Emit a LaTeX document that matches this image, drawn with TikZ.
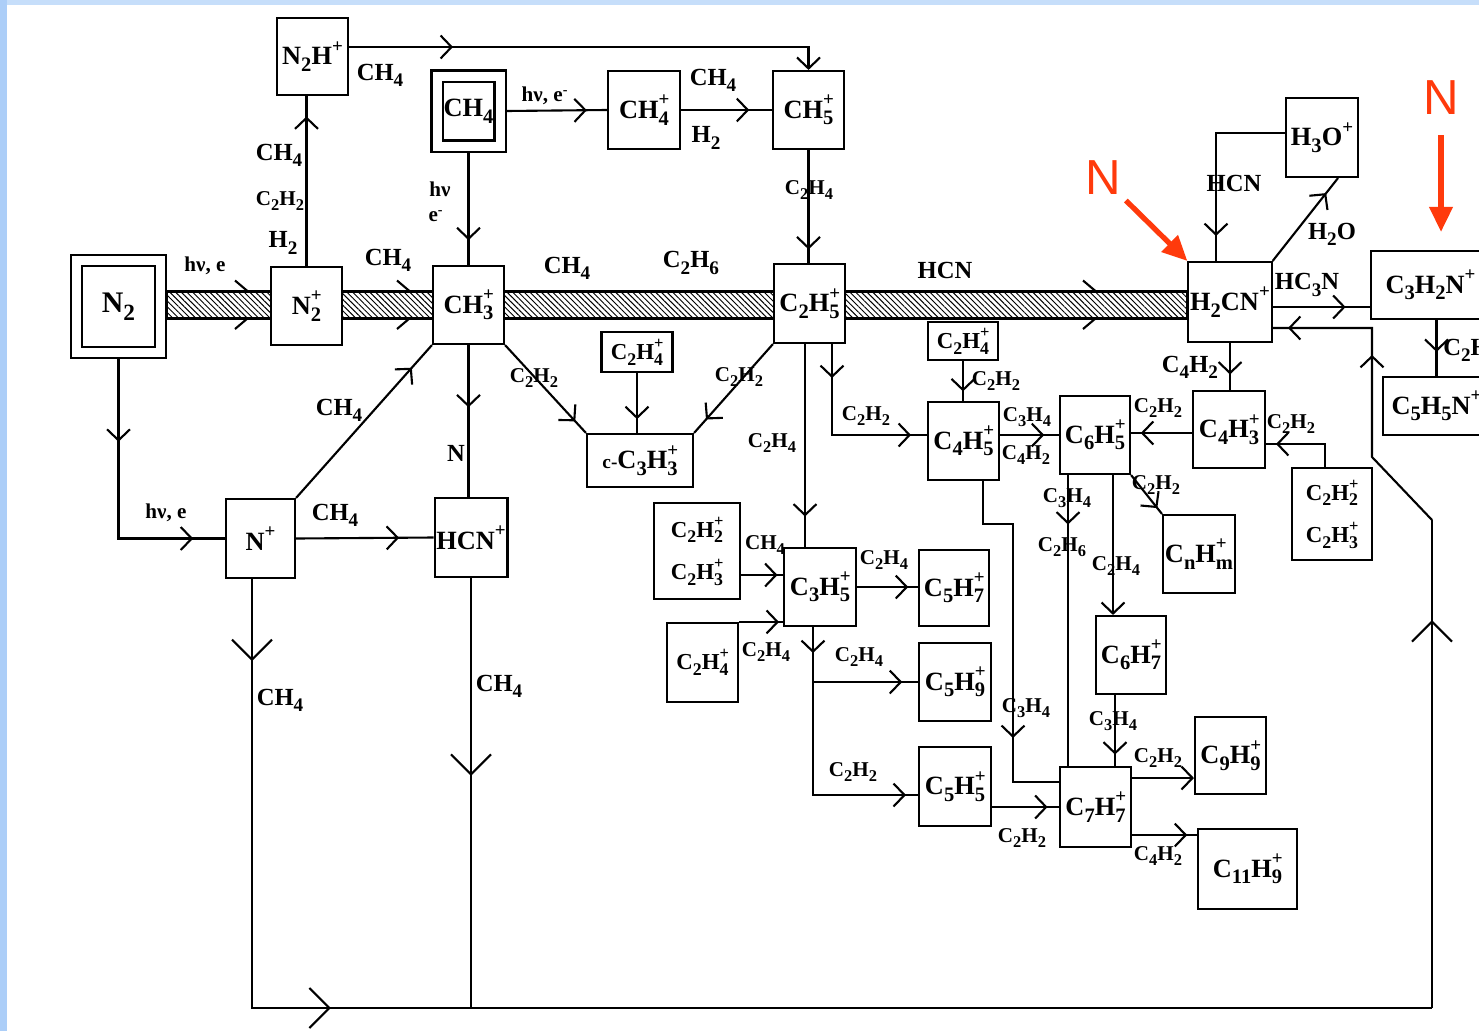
\documentclass[tikz,border=0pt]{standalone}
\usepackage{fontspec}
\setmainfont{Liberation Serif}
\setsansfont{Liberation Sans}
\usetikzlibrary{arrows.meta, positioning, calc, decorations.markings, patterns.meta, backgrounds}
\definecolor{frameblue}{RGB}{198,222,250}
\definecolor{frameleft}{RGB}{172,206,248}
\definecolor{marker}{RGB}{255,58,12}
\newcommand{\fsub}[1]{\raisebox{-0.55ex}{\scalebox{0.78}{#1}}}
\newcommand{\fsup}{\raisebox{1.05ex}{\scalebox{0.72}{+}}}
\newcommand{\fion}[1]{\makebox[0pt][l]{\fsup}\fsub{#1}}

\begin{document}
\begin{tikzpicture}[x=0.02cm, y=-0.02cm]
	\tikzstyle{box} = [draw, fill=white, line width=1.2pt, inner sep=1pt, align=center, font=\bfseries\fontsize{15}{17}\selectfont]
	\tikzstyle{dbox} = [box, double, double distance=0.18cm, outer sep=0.13cm]
	\tikzstyle{smallbox} = [box, font=\bfseries\fontsize{13}{15}\selectfont]
	\tikzstyle{pairbox} = [box, font=\bfseries\fontsize{13}{24}\selectfont]
	\tikzstyle{lab} = [inner sep=0pt, font=\bfseries\fontsize{14}{16}\selectfont]
	\tikzstyle{slab} = [inner sep=0pt, font=\bfseries\fontsize{12}{14}\selectfont]
	\tikzstyle{wire} = [line width=1.2pt]
	\tikzstyle{redarrow} = [line width=3pt, marker, -{Triangle[length=0.5cm, width=0.45cm]}]
	\tikzstyle{rlab} = [inner sep=0pt, marker, font=\sffamily\fontsize{28}{30}\selectfont]
	\tikzset{
		sz/.style 2 args={minimum width=#1*0.02cm, minimum height=#2*0.02cm},
		vtip/.tip={Straight Barb[length=0.22cm, width=0.46cm]},
		Vtip/.tip={Straight Barb[length=0.4cm, width=0.8cm]},
		arr/.style={postaction={decorate, decoration={markings, mark=at position #1 with {\arrow{vtip}}}}},
		barr/.style={postaction={decorate, decoration={markings, mark=at position #1 with {\arrow{Vtip}}}}},
		pics/bandtip/.style={code={\draw[wire] (-13,-11) -- (0,0) (-13,37.5) -- (0,26.5);}}
	}

	\useasboundingbox (0,0) rectangle (1479,1031);

	% boxes
	\node[dbox, sz={83.5}{91.5}, font=\bfseries\fontsize{17}{19}\selectfont] (n2) at (118.5,306.5) {N\fsub{2}};
	\node[dbox, sz={63}{70}] (ch4) at (468.5,111) {CH\fsub{4}};
	\node[box, sz={71}{77}] (n2h) at (312.5,56.5) {N\fsub{2}H\fsup};
	\node[box, sz={72}{78}] (ch4p) at (644,110) {CH\fion{4}};
	\node[box, sz={71}{78}] (ch5p) at (808.5,110) {CH\fion{5}};
	\node[box, sz={71}{78}] (n2p) at (306.5,306) {N\fion{2}};
	\node[box, sz={71}{78}] (ch3p) at (468.5,305) {CH\fion{3}};
	\node[box, sz={71}{79}] (c2h5p) at (809.5,303.5) {C\fsub{2}H\fion{5}};
	\node[box, sz={70}{80}] (h2cnp) at (1230,302) {H\fsub{2}CN\fsup};
	\node[box, sz={72}{79}] (h3op) at (1322,137.5) {H\fsub{3}O\fsup};
	\node[box, sz={119}{68}] (c3h2np) at (1430.5,285) {C\fsub{3}H\fsub{2}N\fsup};
	\node[box, sz={107}{58}] (c5h5np) at (1436.5,406) {C\fsub{5}H\fsub{5}N\fsup};
	\node[smallbox, sz={71}{40}] (c2h4a) at (637,352) {C\fsub{2}H\fion{4}};
	\node[box, sz={106}{53}] (cc3h3p) at (640,460.5) {{\fontsize{11}{13}\selectfont c-}C\fsub{3}H\fion{3}};
	\node[box, sz={69}{79}] (np) at (260.5,538.5) {N\fsup};
	\node[box, sz={72}{79}] (hcnp) at (471,537.5) {HCN\fsup};
	\node[smallbox, sz={70}{38}] (c2h4b) at (963,341) {C\fsub{2}H\fion{4}};
	\node[box, sz={71}{78}] (c4h5p) at (963.5,441) {C\fsub{4}H\fion{5}};
	\node[box, sz={70}{78}] (c6h5p) at (1095,435) {C\fsub{6}H\fion{5}};
	\node[box, sz={72}{77}] (c4h3p) at (1229,429.5) {C\fsub{4}H\fion{3}};
	\node[pairbox, sz={80}{92}] (c2h2c) at (1332,514) {C\fsub{2}H\fion{2}\\C\fsub{2}H\fion{3}};
	\node[box, sz={72}{78}] (cnhmp) at (1199,554) {C\fsub{n}H\fion{m}};
	\node[pairbox, sz={86}{96}] (c2h2d) at (697,551) {C\fsub{2}H\fion{2}\\C\fsub{2}H\fion{3}};
	\node[box, sz={72}{78}] (c3h5p) at (820,587) {C\fsub{3}H\fion{5}};
	\node[box, sz={70}{76}] (c5h7p) at (954,588) {C\fsub{5}H\fion{7}};
	\node[smallbox, sz={71}{79}] (c2h4c) at (702.5,662.5) {C\fsub{2}H\fion{4}};
	\node[box, sz={72}{78}] (c5h9p) at (955,682) {C\fsub{5}H\fion{9}};
	\node[box, sz={72}{79}] (c5h5p) at (955,786.5) {C\fsub{5}H\fion{5}};
	\node[box, sz={70}{78}] (c6h7p) at (1131,655) {C\fsub{6}H\fion{7}};
	\node[box, sz={71}{80}] (c7h7p) at (1095.5,807) {C\fsub{7}H\fion{7}};
	\node[box, sz={71}{77}] (c9h9p) at (1230.5,755.5) {C\fsub{9}H\fion{9}};
	\node[box, sz={99}{80}] (c11h9p) at (1247.5,869) {C\fsub{11}H\fion{9}};

	% frame and hatched main channel
	\begin{pgfonlayer}{background}
		\fill[frameblue] (0,0) rectangle (1479,1031);
		\fill[frameleft] (0,0) rectangle (7,1031);
		\fill[white] (7,5) rectangle (1479,1031);
		\draw[wire, pattern={Lines[angle=-45, distance=2.3pt, line width=0.55pt]}] ($(n2.east)+(0,-15)$) rectangle ($(h2cnp.west)+(0,16.5)$);
	\end{pgfonlayer}
	\pic at (248,291.5) {bandtip};
	\pic at (410,291.5) {bandtip};
	\pic at (1096,291.5) {bandtip};

	% upper part
	\draw[wire, arr=0.8] (ch4.east) -- (ch4p.west);
	\draw[wire, arr=0.75] (ch4p.east) -- (ch5p.west);
	\draw[wire, -{vtip}, arr=2.08cm] ($(n2h.east)+(0,-9.5)$) -| (ch5p.north);
	\draw[wire, arr=0.88] (ch5p.south) -- (ch5p.south |- c2h5p.north);
	\draw[wire, arr=0.78] (ch4.south) -- (ch4.south |- ch3p.north);
	\draw[wire, arr=0.88] (n2p.north) -- (n2p.north |- n2h.south);

	% N+ branch
	\draw[wire, arr=1.66cm, arr=5.09cm] (n2.south) |- (np.west);
	\draw[wire, arr=0.855] (np.north east) -- (ch3p.south west);
	\draw[wire, arr=0.75] (np.east) -- (hcnp.west);
	\draw[wire, arr=0.41] (ch3p.south) -- (ch3p.south |- hcnp.north);

	% return loop
	\coordinate (lp0) at (1432,1008);
	\coordinate (lp1) at (1432,520);
	\coordinate (lp2) at (1372,457);
	\draw[wire, barr=1.64cm, barr=10.16cm] ($(np.south)+(-8.5,0)$) |- (lp0);
	\draw[wire, barr=0.46] (hcnp.south) -- (hcnp.south |- lp0);
	\draw[wire, barr=0.795] (lp0) -- (lp1);
	\draw[wire, arr=3.78cm, arr=6cm] (lp1) -- (lp2) |- ($(h2cnp.east)+(0,26)$);

	% c-C3H3+
	\draw[wire, arr=0.87] (ch3p.south east) -- (cc3h3p.north west);
	\draw[wire, arr=0.85] (c2h5p.south west) -- (cc3h3p.north east);
	\draw[wire, arr=0.77] (c2h4a.south) -- (c2h4a.south |- cc3h3p.north);

	% from C2H5+
	\coordinate (c25a) at ($(c2h5p.south)+(-4.5,0)$);
	\draw[wire, arr=0.85] (c25a) -- (c25a |- c3h5p.north);
	\coordinate (c25b) at ($(c2h5p.south)+(22.5,0)$);
	\draw[wire, arr=0.68cm, arr=3.4cm] (c25b) |- ($(c4h5p.west)+(0,-6)$);
	\draw[wire, arr=0.76] (c2h4b.south) -- (c2h4b.south |- c4h5p.north);

	% C6H5+ and C4H3+
	\draw[wire, arr=0.75] (c6h5p.west -| c4h5p.east) -- (c6h5p.west);
	\coordinate (c43w) at ($(c4h3p.west)+(0,3.5)$);
	\draw[wire, arr=0.84] (c43w) -- (c43w -| c6h5p.east);
	\draw[wire, arr=0.67] (h2cnp.south) -- (h2cnp.south |- c4h3p.north);
	\draw[wire, arr=1.44cm] ($(c2h2c.north)+(-7,0)$) |- ($(c4h3p.east)+(0,14.5)$);
	\draw[wire, arr=0.85] (c6h5p.south east) -- (cnhmp.north west);
	\coordinate (c65a) at ($(c6h5p.south)+(-27,0)$);
	\draw[wire, arr=0.17] (c65a) -- (c65a |- c7h7p.north);
	\coordinate (c65b) at ($(c6h5p.south)+(18,0)$);
	\draw[wire, -{vtip}] (c65b) -- (c65b |- c6h7p.north);
	\coordinate (c45a) at ($(c4h5p.south)+(19.5,0)$);
	\draw[wire, arr=5.74cm] (c45a) -- ++(0,43) -- ++(30,0) |- ($(c7h7p.west)+(0,-25)$);
	\coordinate (c67a) at ($(c6h7p.south)+(-16,0)$);
	\draw[wire, arr=0.84] (c67a) -- (c67a |- c7h7p.north);

	% C7H7+
	\coordinate (c99w) at ($(c9h9p.west)+(0,22.5)$);
	\draw[wire, -{vtip}] (c99w -| c7h7p.east) -- (c99w);
	\coordinate (c119w) at ($(c11h9p.west)+(0,-34)$);
	\draw[wire, arr=0.85] (c119w -| c7h7p.east) -- (c119w);
	\draw[wire, arr=0.83] (c7h7p.west -| c5h5p.east) -- (c7h7p.west);

	% C3H5+
	\coordinate (c22e) at ($(c2h2d.east)+(0,24)$);
	\draw[wire, arr=0.87] (c22e) -- (c22e -| c3h5p.west);
	\draw[wire, arr=0.91] (c2h4c.north east) -- (c2h4c.north east -| c3h5p.west);
	\draw[wire, arr=0.84] (c3h5p.east) -- (c3h5p.east -| c5h7p.west);
	\coordinate (c35s) at ($(c3h5p.south)+(-7,0)$);
	\draw[wire, arr=0.52cm, arr=-0.24cm] (c35s) |- ($(c5h5p.west)+(0,8.5)$);
	\draw[wire, arr=0.85] (c35s |- c5h9p.west) -- (c5h9p.west);

	% H2CN+
	\draw[wire, arr=3.44cm] ($(h3op.west)+(0,-4.5)$) -| ($(h2cnp.north)+(-14,0)$);
	\draw[wire, arr=0.82] (h2cnp.north east) -- ($(h3op.south)+(16,0)$);
	\coordinate (h2e) at ($(h2cnp.east)+(0,5)$);
	\draw[wire, arr=0.75] (h2e) -- (h2e -| c3h2np.west);
	\draw[wire, arr=0.57] (c5h5np.north |- c3h2np.south) -- (c5h5np.north);

	% labels
	\node[lab] (t1) at (380,75) {CH\fsub{4}};
	\node[lab] (t2) at (279,155) {CH\fsub{4}};
	\node[slab] (t3) at (280,201) {C\fsub{2}H\fsub{2}};
	\node[lab] (t4) at (283,243) {H\fsub{2}};
	\node[slab] (t5) at (205,266) {hν, e};
	\node[lab] (t6) at (388,260) {CH\fsub{4}};
	\node[slab] (t7) at (440,189) {hν};
	\node[slab] (t8) at (436,216) {e\textsuperscript{-}};
	\node[slab] (t9) at (545,96) {hν, e\textsuperscript{-}};
	\node[lab] (t10) at (713,80) {CH\fsub{4}};
	\node[lab] (t11) at (706,138) {H\fsub{2}};
	\node[slab] (t12) at (809,190) {C\fsub{2}H\fsub{4}};
	\node[lab] (t13) at (567,268) {CH\fsub{4}};
	\node[lab] (t14) at (691,263) {C\fsub{2}H\fsub{6}};
	\node[lab] (t15) at (945,270) {HCN};
	\node[lab] (t16) at (1234,183) {HCN};
	\node[lab] (t17) at (1332,234) {H\fsub{2}O};
	\node[lab] (t18) at (1307,285) {HC\fsub{3}N};
	\node[lab, anchor=west] (t19) at (1443,350) {C\fsub{2}H\fsub{2}};
	\node[lab] (t20) at (1190,367) {C\fsub{4}H\fsub{2}};
	\node[slab] (t21) at (996,381) {C\fsub{2}H\fsub{2}};
	\node[slab] (t22) at (866,416) {C\fsub{2}H\fsub{2}};
	\node[slab] (t23) at (534,378) {C\fsub{2}H\fsub{2}};
	\node[slab] (t24) at (739,377) {C\fsub{2}H\fsub{2}};
	\node[slab] (t25) at (772,443) {C\fsub{2}H\fsub{4}};
	\node[slab] (t26) at (765,545) {CH\fsub{4}};
	\node[slab] (t27) at (884,560) {C\fsub{2}H\fsub{4}};
	\node[slab] (t28) at (1027,417) {C\fsub{3}H\fsub{4}};
	\node[slab] (t29) at (1026,455) {C\fsub{4}H\fsub{2}};
	\node[slab] (t30) at (1158,408) {C\fsub{2}H\fsub{2}};
	\node[slab] (t31) at (1291,424) {C\fsub{2}H\fsub{2}};
	\node[slab] (t32) at (1156,485) {C\fsub{2}H\fsub{2}};
	\node[slab] (t33) at (1067,498) {C\fsub{3}H\fsub{4}};
	\node[slab] (t34) at (1062,547) {C\fsub{2}H\fsub{6}};
	\node[slab] (t35) at (1116,566) {C\fsub{2}H\fsub{4}};
	\node[slab] (t36) at (1026,708) {C\fsub{3}H\fsub{4}};
	\node[slab] (t37) at (1113,721) {C\fsub{3}H\fsub{4}};
	\node[slab] (t38) at (1158,758) {C\fsub{2}H\fsub{2}};
	\node[slab] (t39) at (1158,856) {C\fsub{4}H\fsub{2}};
	\node[slab] (t40) at (1022,838) {C\fsub{2}H\fsub{2}};
	\node[slab] (t41) at (766,652) {C\fsub{2}H\fsub{4}};
	\node[slab] (t42) at (859,657) {C\fsub{2}H\fsub{4}};
	\node[slab] (t43) at (853,772) {C\fsub{2}H\fsub{2}};
	\node[lab] (t44) at (339,410) {CH\fsub{4}};
	\node[lab] (t45) at (335,515) {CH\fsub{4}};
	\node[slab] (t46) at (166,513) {hν, e};
	\node[lab] (t47) at (456,453) {N};
	\node[lab] (t48) at (280,700) {CH\fsub{4}};
	\node[lab] (t49) at (499,686) {CH\fsub{4}};

	% red marks
	\node[rlab] (rn1) at (1103,178) {N};
	\node[rlab] (rn2) at (1441,98) {N};
	\draw[redarrow, shorten <=0.15cm] (rn1) -- (h2cnp.north west);
	\draw[redarrow, shorten <=0.4cm, shorten >=0.36cm] (rn2) -- (rn2 |- c3h2np.north);

\end{tikzpicture}
\end{document}
